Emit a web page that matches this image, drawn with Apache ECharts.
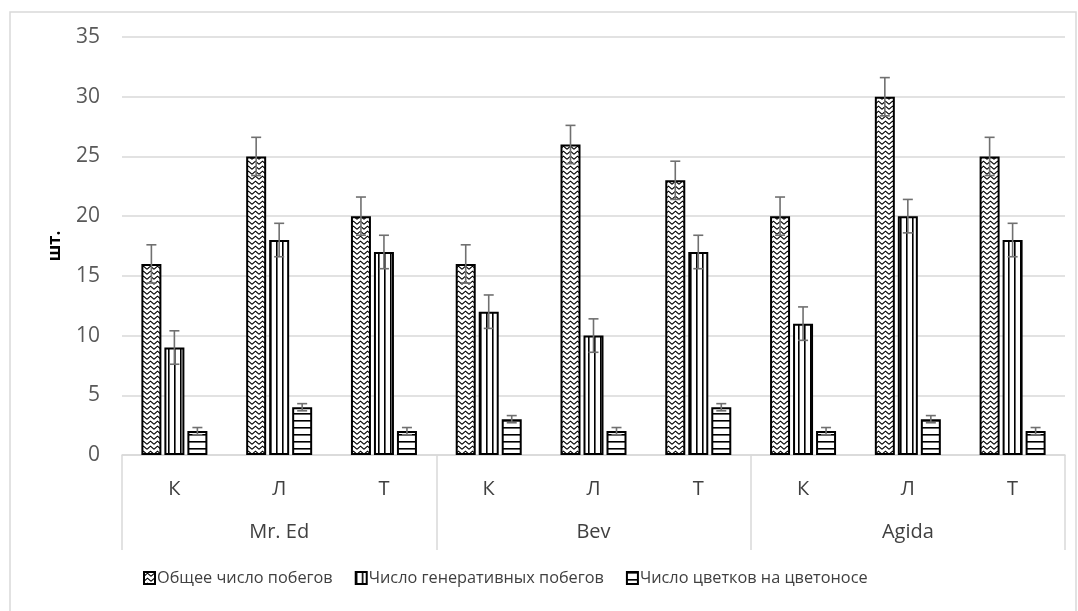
<!DOCTYPE html>
<html>
<head>
<meta charset="utf-8">
<script src="https://cdn.jsdelivr.net/npm/echarts@6/dist/echarts.min.js"></script>
<style>
  html, body { margin: 0; padding: 0; background: #fff; }
  #chart { width: 1078px; height: 611px; }
</style>
</head>
<body>
<div id="chart"></div>
<script>
// Sub-categories (treatments) inside each cultivar group
const subCategories = ['К', 'Л', 'Т', 'К', 'Л', 'Т', 'К', 'Л', 'Т'];
const groups = ['Mr. Ed', 'Bev', 'Agida'];
const yTicks = [0, 5, 10, 15, 20, 25, 30, 35];

const seriesNames = ['Общее число побегов', 'Число генеративных побегов', 'Число цветков на цветоносе'];
const totalShoots = [16, 25, 20, 16, 26, 23, 20, 30, 25];
const generativeShoots = [9, 18, 17, 12, 10, 17, 11, 20, 18];
const flowersPerStalk = [2, 4, 2, 3, 2, 4, 2, 3, 2];
const totalShootsErr = [1.6, 1.6, 1.6, 1.6, 1.6, 1.6, 1.6, 1.6, 1.6];
const generativeShootsErr = [1.4, 1.4, 1.4, 1.4, 1.4, 1.4, 1.4, 1.4, 1.4];
const flowersPerStalkErr = [0.3, 0.3, 0.3, 0.3, 0.3, 0.3, 0.3, 0.3, 0.3];

const FONT = '"Open Sans", "Noto Sans", sans-serif';
const BAR_W = 20;
const BAR_GAP = 3;

// Hatch fills for the three series
function makeTile(w, h, draw) {
  const c = document.createElement('canvas');
  c.width = w; c.height = h;
  const ctx = c.getContext('2d');
  ctx.fillStyle = '#ffffff';
  ctx.fillRect(0, 0, w, h);
  ctx.strokeStyle = '#000000';
  ctx.fillStyle = '#000000';
  draw(ctx);
  return c;
}
const zigzagTile = makeTile(7, 5, ctx => {
  ctx.lineWidth = 1.1;
  ctx.beginPath();
  ctx.moveTo(0, 4.3); ctx.lineTo(3.5, 1.2); ctx.lineTo(7, 4.3);
  ctx.stroke();
});
const verticalTile = makeTile(6, 4, ctx => { ctx.fillRect(0, 0, 1.6, 4); });
const horizontalTile = makeTile(4, 7, ctx => { ctx.fillRect(0, 0, 4, 1.6); });

const patterns = [zigzagTile, verticalTile, horizontalTile].map(img => ({ image: img, repeat: 'repeat' }));
const values = [totalShoots, generativeShoots, flowersPerStalk];
const errors = [totalShootsErr, generativeShootsErr, flowersPerStalkErr];

const barSeries = values.map((vals, i) => ({
  name: seriesNames[i],
  type: 'bar',
  barWidth: BAR_W,
  barGap: (BAR_GAP / BAR_W * 100) + '%',
  data: vals,
  itemStyle: { color: patterns[i], borderColor: '#000', borderWidth: 2 },
  emphasis: { disabled: true }
}));

// Error bars (± value with caps), placed over the matching bar of each group
const errorSeries = values.map((vals, i) => ({
  type: 'custom',
  silent: true,
  z: 5,
  data: vals.map((v, k) => [k, v, errors[i][k]]),
  renderItem: function (params, api) {
    const k = api.value(0), v = api.value(1), e = api.value(2);
    const shift = (i - 1) * (BAR_W + BAR_GAP);
    const top = api.coord([k, v + e]);
    const bot = api.coord([k, v - e]);
    const x = top[0] + shift;
    const cap = 5;
    const style = { stroke: '#707070', lineWidth: 1.6 };
    return {
      type: 'group',
      children: [
        { type: 'line', shape: { x1: x, y1: top[1], x2: x, y2: bot[1] }, style },
        { type: 'line', shape: { x1: x - cap, y1: top[1], x2: x + cap, y2: top[1] }, style },
        { type: 'line', shape: { x1: x - cap, y1: bot[1], x2: x + cap, y2: bot[1] }, style }
      ]
    };
  }
}));

const chart = echarts.init(document.getElementById('chart'));
chart.setOption({
  backgroundColor: '#ffffff',
  animation: false,
  textStyle: { fontFamily: FONT },
  graphic: [{
    type: 'rect',
    shape: { x: 10, y: 12, width: 1066, height: 620 },
    style: { fill: 'none', stroke: '#d9d9d9', lineWidth: 1.5 },
    silent: true
  }],
  grid: { left: 122, right: 13, top: 37, bottom: 156 },
  legend: {
    bottom: 25,
    left: 143,
    padding: 0,
    icon: 'rect',
    itemWidth: 11,
    itemHeight: 12,
    itemGap: 22,
    data: seriesNames,
    textStyle: { fontFamily: FONT, fontSize: 16.3, color: '#404040', padding: [0, 0, 0, -3] }
  },
  xAxis: [
    {
      type: 'category',
      data: subCategories,
      axisLine: { show: true, lineStyle: { color: '#d9d9d9', width: 1.5 } },
      axisTick: { show: false },
      axisLabel: { margin: 24, fontSize: 20, color: '#404040', fontFamily: FONT }
    },
    {
      type: 'category',
      data: groups,
      position: 'bottom',
      axisLine: { show: false },
      axisTick: { show: true, length: 95, lineStyle: { color: '#d9d9d9', width: 1.5 } },
      axisLabel: { margin: 67, fontSize: 20, color: '#404040', fontFamily: FONT },
      splitLine: { show: false }
    }
  ],
  yAxis: {
    type: 'value',
    min: yTicks[0],
    max: yTicks[yTicks.length - 1],
    interval: yTicks[1] - yTicks[0],
    name: 'шт.',
    nameLocation: 'middle',
    nameGap: 58,
    nameTextStyle: { fontFamily: FONT, fontSize: 17, fontWeight: 'bold', color: '#000' },
    axisLine: { show: false },
    axisTick: { show: false },
    axisLabel: { margin: 22, fontSize: 21, color: '#595959', fontFamily: FONT },
    splitLine: { lineStyle: { color: '#d9d9d9', width: 1.5 } }
  },
  series: [...barSeries, ...errorSeries]
});
</script>
</body>
</html>
